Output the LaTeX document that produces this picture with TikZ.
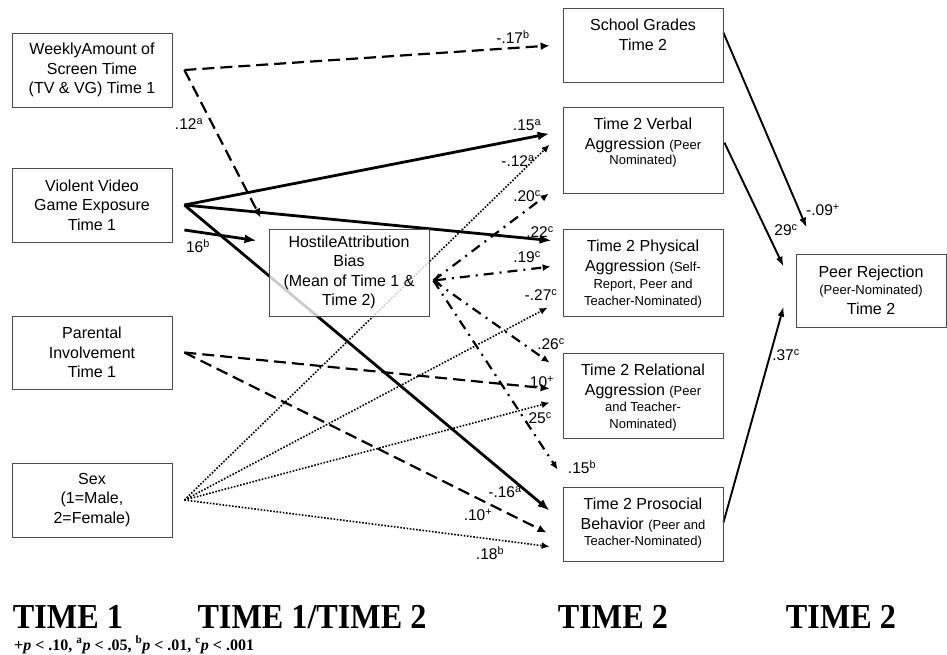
\documentclass[tikz,border=0pt]{standalone}
\usepackage{fontspec}
\setmainfont{Liberation Sans}
\newfontfamily\timesfont{Liberation Serif}
\usetikzlibrary{arrows.meta,calc,backgrounds}

\newcommand{\sm}{\fontsize{13}{16}\selectfont}
\newcommand{\topbox}[2]{\parbox[c][#1][t]{158pt}{\centering\vspace*{11pt}#2}}

\tikzset{
  box/.style={draw=black!70, line width=0.8pt, align=center, inner sep=0pt,
    font=\fontsize{16}{19.5}\selectfont},
  coef/.style={inner sep=0pt, font=\fontsize{15.5}{18}\selectfont},
  solidarrow/.style={line width=2.8pt, -{Latex[length=12pt,width=9pt]}},
  dasharrow/.style={line width=2.2pt, dash pattern=on 12pt off 6pt,
    -{Latex[length=9pt,width=8pt]}},
  dotarrow/.style={line width=1.6pt, dash pattern=on 1.6pt off 1.6pt,
    -{Latex[length=8pt,width=7pt]}},
  dashdotarrow/.style={line width=2.2pt, dash pattern=on 10pt off 6pt on 2pt off 6pt,
    -{Latex[length=8pt,width=7pt]}},
  outarrow/.style={line width=1.9pt, -{Latex[length=10pt,width=7pt]}},
  timelabel/.style={anchor=base, inner sep=0pt,
    font=\timesfont\bfseries\fontsize{35}{40}\selectfont}
}

\begin{document}
\begin{tikzpicture}[x=1pt,y=-1pt]
  \useasboundingbox (0,0) rectangle (947,654);

  % Time 1 boxes
  \node[box, minimum width=160pt, minimum height=74pt] (weekly) at (92,70)
    {WeeklyAmount of\\Screen Time\\(TV \& VG) Time 1};
  \node[box, minimum width=160pt, minimum height=74pt] (violent) at (92,205)
    {Violent Video\\Game Exposure\\Time 1};
  \node[box, minimum width=160pt, minimum height=73pt] (parental) at (92,352.5)
    {Parental\\Involvement\\Time 1};
  \node[box, minimum width=160pt, minimum height=74pt] (sex) at (92,500)
    {Sex\\(1=Male,\\2=Female)};

  % Mediator
  \node[box, minimum width=160pt, minimum height=87pt, fill=white,
    fill opacity=0.8, text opacity=1] (hostile) at (349,272.5)
    {HostileAttribution\\Bias\\(Mean of Time 1 \&\\Time 2)};

  % Time 2 outcomes
  \node[box, minimum width=160pt] (school) at (643,45)
    {\topbox{74pt}{School Grades\\Time 2}};
  \node[box, minimum width=160pt] (verbal) at (643,150)
    {\topbox{86pt}{Time 2 Verbal\\Aggression {\sm (Peer}\\[-4pt]{\sm Nominated)}}};
  \node[box, minimum width=160pt] (physical) at (643,272.5)
    {\topbox{87pt}{Time 2 Physical\\Aggression {\sm (Self-}\\[-2pt]{\sm Report, Peer and}\\[-3pt]{\sm Teacher-Nominated)}}};
  \node[box, minimum width=160pt] (relational) at (643,395.5)
    {\topbox{85pt}{Time 2 Relational\\Aggression {\sm (Peer}\\[-3pt]{\sm and Teacher-}\\[-3pt]{\sm Nominated)}}};
  \node[box, minimum width=160pt] (prosocial) at (643,524)
    {\topbox{74pt}{Time 2 Prosocial\\Behavior {\sm (Peer and}\\[-3pt]{\sm Teacher-Nominated)}}};

  \node[box, minimum width=150pt, minimum height=73pt] (peer) at (871,290.5)
    {Peer Rejection\\[-3pt]{\sm (Peer-Nominated)}\\[1pt]Time 2};

  % start points of the paths
  \coordinate (ws) at ($(weekly.east)+(12,0)$);
  \coordinate (vs) at ($(violent.east)+(12,0)$);
  \coordinate (ps) at ($(parental.east)+(12,0)$);
  \coordinate (ss) at ($(sex.east)+(12,0)$);
  \coordinate (hb) at ($(hostile.east)+(4,8)$);

  \begin{scope}[on background layer]
    % screen time
    \draw[dasharrow] (ws) -- ($(school.north west)+(-13,38)$);
    \draw[dasharrow] (ws) -- ($(hostile.north west)+(-8,-11)$);

    % violent video games
    \draw[solidarrow] ($(violent.east)+(12,25)$) -- ($(hostile.north west)+(-12,12)$);
    \draw[solidarrow] (vs) -- ($(verbal.north west)+(-13,27)$);
    \draw[solidarrow] (vs) -- ($(physical.north west)+(-11,12)$);
    \draw[solidarrow] (vs) -- ($(prosocial.north west)+(-13,24)$);

    % hostile attribution bias
    \draw[dashdotarrow] (hb) -- ($(verbal.north west)+(-14,87)$);
    \draw[dashdotarrow, {Straight Barb[length=5pt,width=11pt]}-{Latex[length=8pt,width=7pt]}]
      (hb) -- ($(physical.north west)+(-12,38)$);
    \draw[dashdotarrow] (hb) -- ($(relational.north west)+(-13,10)$);
    \draw[dashdotarrow] (hb) -- ($(prosocial.north west)+(-5,-17)$);

    % parental involvement
    \draw[dasharrow] (ps) -- ($(relational.north west)+(-13,36)$);
    \draw[dasharrow] (ps) -- ($(prosocial.north west)+(-16,46)$);

    % sex
    \draw[dotarrow] (ss) -- ($(verbal.north west)+(-13,38)$);
    \draw[dotarrow] (ss) -- ($(physical.north west)+(-15,79)$);
    \draw[dotarrow] (ss) -- ($(relational.north west)+(-13,50)$);
    \draw[dotarrow] (ss) -- ($(prosocial.north west)+(-13,60)$);

    % to peer rejection
    \draw[outarrow] ($(school.north east)+(0,25)$) -- ($(peer.north west)+(11,-26)$);
    \draw[outarrow] ($(verbal.north east)+(1,36)$) -- ($(peer.north west)+(-12,13)$);
    \draw[outarrow] ($(prosocial.north east)+(0,36)$) -- ($(peer.north west)+(-12,53)$);
  \end{scope}

  % coefficients
  \node[coef] (c17) at (513,37) {-.17\textsuperscript{b}};
  \node[coef] (c12) at (189,124) {.12\textsuperscript{a}};
  \node[coef] (c16) at (198,246) {16\textsuperscript{b}};
  \node[coef] (c15) at (527,125) {.15\textsuperscript{a}};
  \node[coef] (cm12) at (518,161) {-.12\textsuperscript{a}};
  \node[coef] (c20) at (527,196) {.20\textsuperscript{c}};
  \node[coef] (c22) at (540,232) {.22\textsuperscript{c}};
  \node[coef] (c19) at (527,257) {.19\textsuperscript{c}};
  \node[coef] (c27) at (541,295) {-.27\textsuperscript{c}};
  \node[coef] (c26) at (551,344) {.26\textsuperscript{c}};
  \node[coef] (c10a) at (542,382) {10\textsuperscript{+}};
  \node[coef] (c25) at (538,418) {.25\textsuperscript{c}};
  \node[coef] (c15b) at (582,467) {.15\textsuperscript{b}};
  \node[coef] (cm16) at (505,492) {-.16\textsuperscript{a}};
  \node[coef] (c10b) at (478,515) {.10\textsuperscript{+}};
  \node[coef] (c18) at (490,553) {.18\textsuperscript{b}};
  \node[coef] (c09) at (823,210) {-.09\textsuperscript{+}};
  \node[coef] (c29) at (786,230) {29\textsuperscript{c}};
  \node[coef] (c37) at (786,355) {.37\textsuperscript{c}};

  % waves
  \node[timelabel] (wave1) at (68,628) {\scalebox{0.92}[1]{TIME 1}};
  \node[timelabel] (wave12) at (312,628) {\scalebox{0.92}[1]{TIME 1/TIME 2}};
  \node[timelabel] (wave2) at (613,628) {\scalebox{0.92}[1]{TIME 2}};
  \node[timelabel] (wave2b) at (841,628) {\scalebox{0.92}[1]{TIME 2}};

  \node[anchor=base west, inner sep=0pt,
    font=\timesfont\bfseries\fontsize{16}{18}\selectfont] (note) at (14,650)
    {+\textit{p} < .10, \textsuperscript{a}\textit{p} < .05,
     \textsuperscript{b}\textit{p} < .01, \textsuperscript{c}\textit{p} < .001};
\end{tikzpicture}
\end{document}
